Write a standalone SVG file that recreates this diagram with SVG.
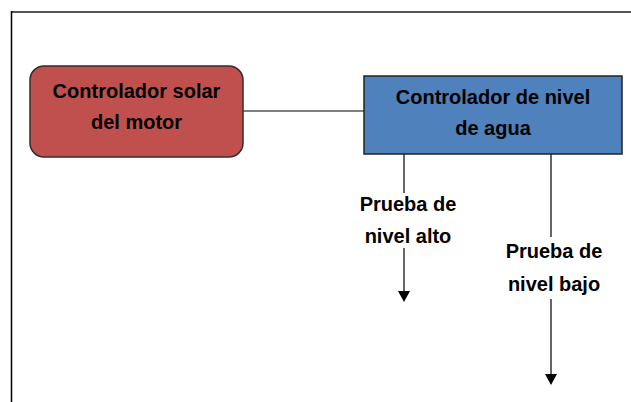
<svg xmlns="http://www.w3.org/2000/svg" width="631" height="402" viewBox="0 0 631 402">
<style>
text{font-family:"Liberation Sans",Arial,sans-serif;font-weight:bold;font-size:20px;fill:#000;text-anchor:middle}
.ln{stroke:#000;stroke-width:1.2;fill:none}
.head{fill:#000}
</style>
<rect width="631" height="402" fill="#fff"/>
<g id="frame">
<line x1="11" y1="12" x2="631" y2="12" stroke="#555" stroke-width="2"/>
<line x1="11.5" y1="11" x2="11.5" y2="402" stroke="#000" stroke-width="1.5"/>
</g>
<g id="connectors">
<line class="ln" x1="243" y1="111" x2="364" y2="111" stroke="#333" stroke-width="1.5"/>
<line class="ln" x1="404" y1="154" x2="404" y2="193"/>
<line class="ln" x1="404" y1="248" x2="404" y2="292"/>
<path class="head" d="M398,291 L410,291 L404,302 Z"/>
<line class="ln" x1="551" y1="154" x2="551" y2="237"/>
<line class="ln" x1="551" y1="299" x2="551" y2="375"/>
<path class="head" d="M545,374 L557,374 L551,385 Z"/>
</g>
<g id="solar">
<rect x="30" y="66" width="213" height="91" rx="14" ry="14" fill="#C0504D" stroke="#3a2a2a" stroke-width="1.5"/>
<text x="136.5" y="98">Controlador solar</text>
<text x="136.5" y="129">del motor</text>
</g>
<g id="nivel">
<rect x="364" y="76" width="258" height="78" fill="#4F81BD" stroke="#222" stroke-width="1.5"/>
<text x="493" y="104">Controlador de nivel</text>
<text x="493" y="135">de agua</text>
</g>
<g id="alto">
<text x="408" y="211">Prueba de</text>
<text x="408" y="243">nivel alto</text>
</g>
<g id="bajo">
<text x="554" y="258">Prueba de</text>
<text x="554" y="291">nivel bajo</text>
</g>
</svg>
